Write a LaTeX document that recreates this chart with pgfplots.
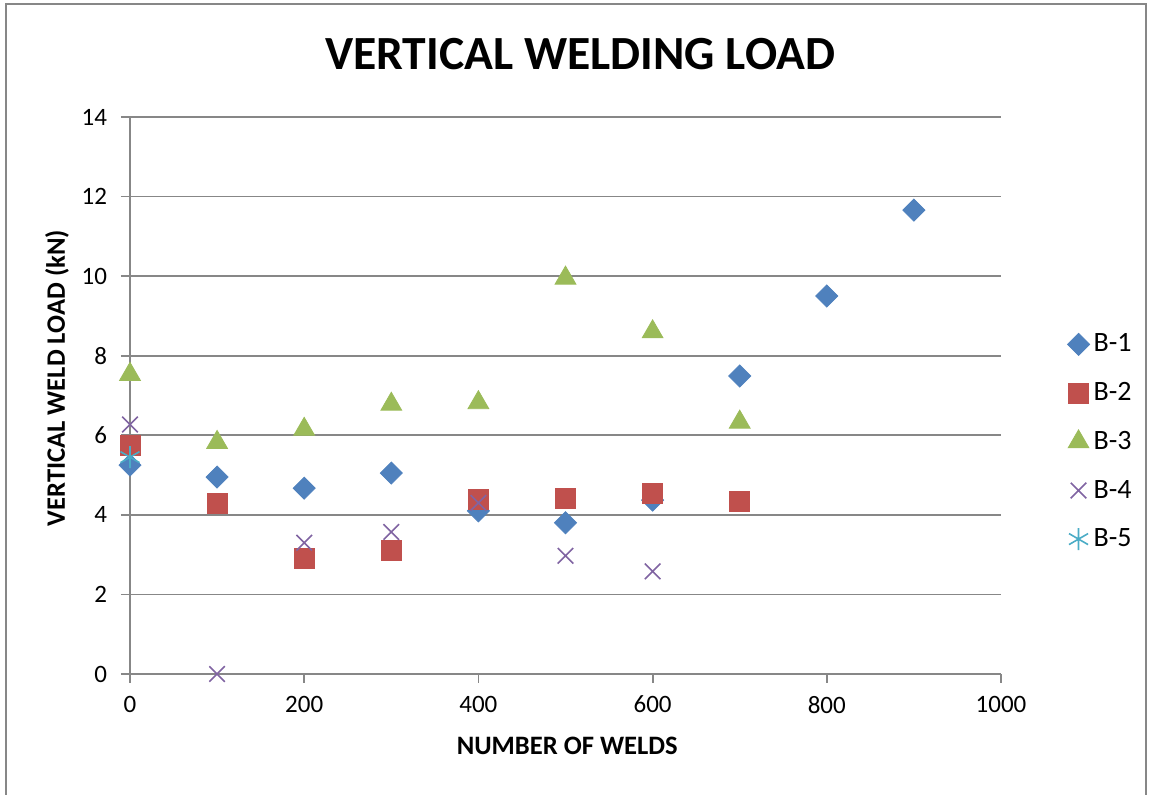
\documentclass[border=0pt]{standalone}
\usepackage{pgfplots}
\pgfplotsset{compat=1.18}
\usepackage{fontspec}
\setmainfont{Carlito}

\definecolor{bone}{HTML}{4F81BD}
\definecolor{btwo}{HTML}{C0504D}
\definecolor{bthree}{HTML}{9BBB59}
\definecolor{bfour}{HTML}{8064A2}
\definecolor{bfive}{HTML}{4BACC6}
\definecolor{gridgray}{HTML}{878787}

\begin{document}
\begin{tikzpicture}
\useasboundingbox (-65pt,-60.5pt) rectangle (510pt,337pt);
% chart area frame (cut at the bottom, as in the original)
\draw[gridgray, line width=0.9pt] (-62pt,-70pt) -- (-62pt,335pt) -- (508pt,335pt) -- (508pt,-70pt);
\begin{axis}[
    scale only axis,
    width=435.5pt, height=278.5pt,
    xmin=0, xmax=1000, ymin=0, ymax=14,
    xtick={0,200,...,1000},
    ytick={0,2,...,14},
    axis x line*=bottom,
    axis y line*=left,
    axis line style={gridgray, line width=0.9pt},
    ymajorgrids,
    grid style={gridgray, line width=0.9pt},
    tick align=outside,
    major tick length=4.5pt,
    tick style={gridgray, line width=0.9pt},
    /pgf/number format/assume math mode=true,
    /pgf/number format/1000 sep={},
    ticklabel style={font=\fontsize{12.5}{14}\selectfont},
    xticklabel style={yshift=-3pt},
    yticklabel style={xshift=-3.5pt},
    title={VERTICAL WELDING LOAD},
    title style={font=\fontsize{23.8}{27}\selectfont\bfseries, at={(0.517,1)}, anchor=base, yshift=17.5pt},
    xlabel={NUMBER OF WELDS},
    xlabel style={font=\fontsize{13.3}{15}\selectfont\bfseries, at={(0.502,0)}, anchor=base, yshift=-40.5pt},
    ylabel={VERTICAL WELD LOAD (kN)},
    ylabel style={font=\fontsize{13.3}{15}\selectfont\bfseries, at={(0,0.531)}, anchor=base, yshift=32.5pt},
    legend style={at={(1.069,0.417)}, anchor=west, draw=none, fill=none,
        font=\fontsize{14}{16}\selectfont, row sep=9.8pt},
    legend cell align=left,
    clip=false,
]
\addplot[only marks, mark=square*, mark size=3.9pt, color=bone, mark options={rotate=45}]
coordinates {(0,5.25) (100,4.95) (200,4.67) (300,5.05) (400,4.1) (500,3.8) (600,4.37) (700,7.49) (800,9.5) (900,11.66)};
\addlegendentry{B-1}

\addplot[only marks, mark=square*, mark size=5pt, color=btwo]
coordinates {(0,5.75) (100,4.3) (200,2.9) (300,3.1) (400,4.4) (500,4.42) (600,4.55) (700,4.33)};
\addlegendentry{B-2}

\addplot[only marks, mark=triangle*, mark size=6pt, color=bthree]
coordinates {(0,7.53) (100,5.82) (200,6.15) (300,6.78) (400,6.82) (500,9.95) (600,8.6) (700,6.33)};
\addlegendentry{B-3}

\addplot[only marks, mark=x, mark size=5.5pt, color=bfour, mark options={line width=0.8pt}]
coordinates {(0,6.27) (100,0) (200,3.3) (300,3.57) (400,4.3) (500,2.97) (600,2.58)};
\addlegendentry{B-4}

\addplot[only marks, mark=asterisk, mark size=5.5pt, color=bfive, mark options={line width=0.8pt}]
coordinates {(0,5.45)};
\addlegendentry{B-5}
\end{axis}
\end{tikzpicture}
\end{document}
